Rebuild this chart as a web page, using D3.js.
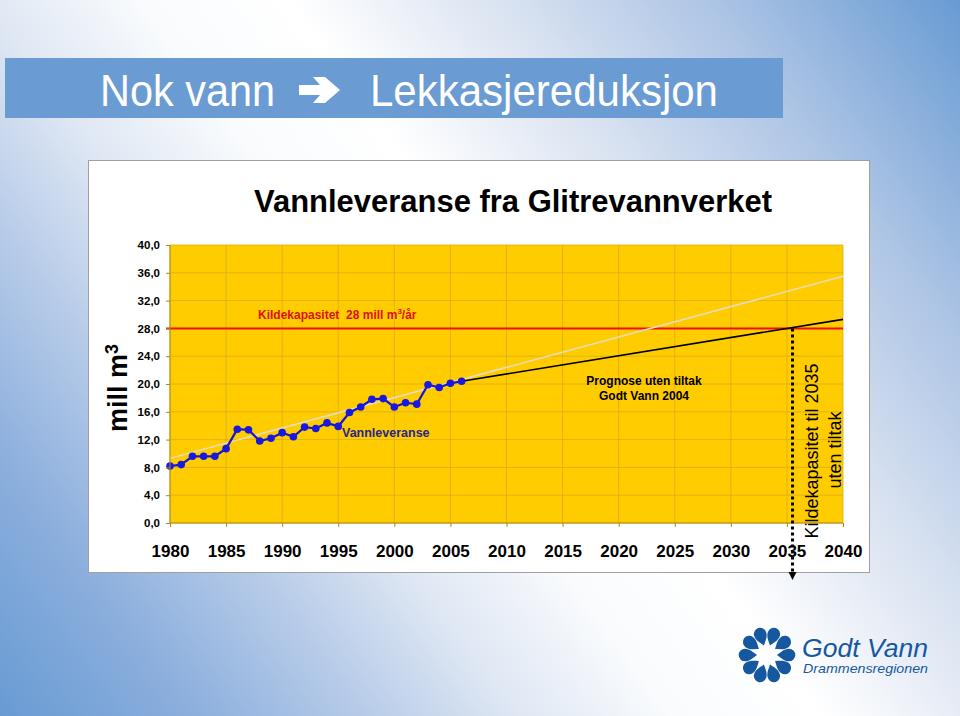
<!DOCTYPE html>
<html>
<head>
<meta charset="utf-8">
<script src="https://cdn.jsdelivr.net/npm/d3@7"></script>
<style>
  html, body { margin: 0; padding: 0; background: #fff; }
  svg { display: block; font-family: "Liberation Sans", Arial, sans-serif; }
</style>
</head>
<body>
<script>
(function(){

    //vannleveranse (mill m3)
    var years = [1980, 1981, 1982, 1983, 1984, 1985, 1986, 1987, 1988, 1989,
                 1990, 1991, 1992, 1993, 1994, 1995, 1996, 1997, 1998, 1999,
                 2000, 2001, 2002, 2003, 2004, 2005, 2006];
    var delivery = [8.2, 8.4, 9.6, 9.6, 9.6, 10.7, 13.5, 13.4, 11.8, 12.2,
                    13.0, 12.4, 13.8, 13.6, 14.4, 13.9, 15.9, 16.7, 17.8, 17.9,
                    16.7, 17.3, 17.1, 19.9, 19.5, 20.1, 20.4];

    //prognose uten tiltak, and the light linear trend
    var prognosisYears = [2006, 2040];
    var prognosis = [20.4, 29.3];
    var trendYears = [1980, 2040];
    var trend = [9.3, 35.5];

    //kildekapasitet
    var capacity = 28;
    var capacityYear = 2035.5;

    //axis ticks
    var xTicks = [1980, 1985, 1990, 1995, 2000, 2005, 2010, 2015, 2020, 2025, 2030, 2035, 2040];
    var yTicks = [0, 4, 8, 12, 16, 20, 24, 28, 32, 36, 40];

    var width = 960,
        height = 716;

    var svg = d3.select("body")
        .append("svg")
        .attr("width", width)
        .attr("height", height);

    var defs = svg.append("defs");

    //slide background: blue in top-right and bottom-left corners
    var bg = defs.append("linearGradient")
        .attr("id", "bg")
        .attr("gradientUnits", "userSpaceOnUse")
        .attr("x1", 0).attr("y1", height)
        .attr("x2", width).attr("y2", 0);
    [[0, "#689bd3"], [0.13, "#8cafdd"], [0.24, "#b5cae8"], [0.35, "#e0e8f4"],
     [0.45, "#f9fbfd"], [0.55, "#ffffff"], [0.68, "#dde5f2"], [0.83, "#aec5e5"],
     [1, "#689bd3"]].forEach(function(s){
        bg.append("stop").attr("offset", s[0]).attr("stop-color", s[1]);
    });

    svg.append("rect")
        .attr("width", width)
        .attr("height", height)
        .attr("fill", "url(#bg)");

    //title bar
    svg.append("rect")
        .attr("x", 5).attr("y", 58)
        .attr("width", 778).attr("height", 60)
        .attr("fill", "#6a9bd3");

    svg.append("text")
        .attr("x", 100).attr("y", 106)
        .attr("fill", "#fff")
        .style("font-size", "45px")
        .attr("textLength", 175)
        .attr("lengthAdjust", "spacingAndGlyphs")
        .text("Nok vann");

    //heavy arrow between the two title words
    svg.append("path")
        .attr("d", "M299,85L320,85L313,77L325,77L340,90L325,103L313,103L320,95L299,95Z")
        .attr("fill", "#fff");

    svg.append("text")
        .attr("x", 370).attr("y", 106)
        .attr("fill", "#fff")
        .style("font-size", "45px")
        .attr("textLength", 348)
        .attr("lengthAdjust", "spacingAndGlyphs")
        .text("Lekkasjereduksjon");

    //chart frame
    svg.append("rect")
        .attr("x", 88.5).attr("y", 160.5)
        .attr("width", 781).attr("height", 412)
        .attr("fill", "#fff")
        .attr("stroke", "#a0a0a0")
        .attr("stroke-width", 1);

    svg.append("text")
        .attr("x", 254).attr("y", 212)
        .style("font-size", "32px")
        .style("font-weight", "bold")
        .attr("textLength", 518)
        .attr("lengthAdjust", "spacingAndGlyphs")
        .text("Vannleveranse fra Glitrevannverket");

    //scales
    var x = d3.scaleLinear().domain([1980, 2040]).range([170, 843]);
    var y = d3.scaleLinear().domain([0, 40]).range([523, 245]);

    var plot = svg.append("g");

    plot.append("rect")
        .attr("x", x(1980)).attr("y", y(40))
        .attr("width", x(2040) - x(1980))
        .attr("height", y(0) - y(40))
        .attr("fill", "#ffcc00");

    //gridlines
    plot.append("g")
        .selectAll("line.vg")
        .data(xTicks)
        .enter()
        .append("line")
        .attr("x1", function(d){ return x(d); })
        .attr("x2", function(d){ return x(d); })
        .attr("y1", y(0)).attr("y2", y(40))
        .attr("stroke", "#d9ad1a")
        .attr("stroke-width", 0.8);

    plot.append("g")
        .selectAll("line.hg")
        .data(yTicks)
        .enter()
        .append("line")
        .attr("x1", x(1980)).attr("x2", x(2040))
        .attr("y1", function(d){ return y(d); })
        .attr("y2", function(d){ return y(d); })
        .attr("stroke", "#d9ad1a")
        .attr("stroke-width", 0.8);

    var comma = function(d){ return d3.format(".1f")(d).replace(".", ","); };

    //y axis
    var yAxis = svg.append("g")
        .attr("transform", "translate(" + x(1980) + ",0)")
        .call(d3.axisLeft(y).tickValues(yTicks).tickSize(4).tickPadding(6).tickFormat(comma));
    yAxis.selectAll("text")
        .style("font-size", "11.5px")
        .style("font-weight", "bold")
        .style("font-family", "Liberation Sans, Arial, sans-serif")
        .attr("fill", "#000");

    //x axis
    var xAxis = svg.append("g")
        .attr("transform", "translate(0," + y(0) + ")")
        .call(d3.axisBottom(x).tickValues(xTicks).tickSize(4).tickPadding(18).tickFormat(d3.format("d")));
    xAxis.selectAll("text")
        .style("font-size", "17px")
        .style("font-weight", "bold")
        .style("font-family", "Liberation Sans, Arial, sans-serif")
        .attr("fill", "#000");

    [yAxis, xAxis].forEach(function(a){
        a.select(".domain").attr("stroke", "#b08a10");
        a.selectAll(".tick line").attr("stroke", "#b08a10");
    });
    xAxis.select(".domain").attr("d", "M" + x(1980) + ",0H" + x(2040));
    yAxis.select(".domain").attr("d", "M0," + y(0) + "V" + y(40));

    //y axis title
    var yTitle = svg.append("text")
        .attr("transform", "translate(127,388) rotate(-90)")
        .attr("text-anchor", "middle")
        .style("font-size", "27px")
        .style("font-weight", "bold");
    yTitle.append("tspan").text("mill m");
    yTitle.append("tspan")
        .attr("dy", "-0.5em")
        .style("font-size", "18px")
        .text("3");

    //capacity line
    plot.append("line")
        .attr("x1", x(1980) - 4).attr("x2", x(2040))
        .attr("y1", y(capacity)).attr("y2", y(capacity))
        .attr("stroke", "#ee1111")
        .attr("stroke-width", 2);

    var capLabel = plot.append("text")
        .attr("x", 258).attr("y", 319)
        .attr("fill", "#e01010")
        .style("font-size", "12px")
        .style("font-weight", "bold")
        .attr("xml:space", "preserve");
    capLabel.append("tspan").text("Kildekapasitet  28 mill m");
    capLabel.append("tspan").attr("dy", -5).style("font-size", "8px").text("3");
    capLabel.append("tspan").attr("dy", 5).text("/år");

    var line = d3.line()
        .x(function(d){ return x(d[0]); })
        .y(function(d){ return y(d[1]); });

    //light trend
    plot.append("path")
        .datum(d3.zip(trendYears, trend))
        .attr("d", line)
        .attr("fill", "none")
        .attr("stroke", "#e2dcc4")
        .attr("stroke-width", 1.5);

    //prognosis
    plot.append("path")
        .datum(d3.zip(prognosisYears, prognosis))
        .attr("d", line)
        .attr("fill", "none")
        .attr("stroke", "#000")
        .attr("stroke-width", 1.6);

    //delivery series
    var series = d3.zip(years, delivery);
    plot.append("path")
        .datum(series)
        .attr("d", line)
        .attr("fill", "none")
        .attr("stroke", "#1616d0")
        .attr("stroke-width", 2.2);

    plot.selectAll(".dot")
        .data(series)
        .enter()
        .append("circle")
        .attr("class", "dot")
        .attr("cx", function(d){ return x(d[0]); })
        .attr("cy", function(d){ return y(d[1]); })
        .attr("r", 3.8)
        .attr("fill", "#1818e0");

    plot.append("text")
        .attr("x", 342).attr("y", 437)
        .attr("fill", "#25258a")
        .style("font-size", "12.5px")
        .style("font-weight", "bold")
        .text("Vannleveranse");

    var progLabel = plot.append("text")
        .attr("text-anchor", "middle")
        .style("font-size", "12px")
        .style("font-weight", "bold");
    progLabel.append("tspan").attr("x", 644).attr("y", 385).text("Prognose uten tiltak");
    progLabel.append("tspan").attr("x", 644).attr("y", 400).text("Godt Vann 2004");

    //dotted arrow down from the crossing point
    var ax = x(capacityYear);
    svg.append("line")
        .attr("x1", ax).attr("x2", ax)
        .attr("y1", y(capacity)).attr("y2", 573)
        .attr("stroke", "#000")
        .attr("stroke-width", 3)
        .attr("stroke-dasharray", "3,3");
    svg.append("path")
        .attr("d", "M" + (ax - 4) + ",572L" + (ax + 4) + ",572L" + ax + ",580Z")
        .attr("fill", "#000");

    var sideLabel = svg.append("text")
        .attr("transform", "rotate(-90)")
        .attr("text-anchor", "middle")
        .style("font-size", "18px");
    sideLabel.append("tspan").attr("x", -451).attr("y", 818).text("Kildekapasitet til 2035");
    sideLabel.append("tspan").attr("x", -450).attr("y", 841).text("uten tiltak");

    //logo: ring of drops with tips pointing in
    var logo = svg.append("g").attr("transform", "translate(767,655)");
    var drops = [0, 1, 2, 3, 4, 5, 6, 7, 8, 9];
    logo.selectAll("path")
        .data(drops)
        .enter()
        .append("path")
        .attr("transform", function(d){ return "rotate(" + (18 + d * 36) + ")"; })
        .attr("d", "M0,-10 C2.5,-13.5 6.3,-17 6.3,-22 A6.3,6.3 0 1 0 -6.3,-22 C-6.3,-17 -2.5,-13.5 0,-10Z")
        .attr("fill", "#16589f");

    svg.append("text")
        .attr("x", 802).attr("y", 657)
        .attr("fill", "#16589f")
        .style("font-size", "25px")
        .style("font-style", "italic")
        .attr("textLength", 126)
        .attr("lengthAdjust", "spacingAndGlyphs")
        .text("Godt Vann");

    svg.append("text")
        .attr("x", 803).attr("y", 673)
        .attr("fill", "#16589f")
        .style("font-size", "13px")
        .style("font-style", "italic")
        .attr("textLength", 125)
        .attr("lengthAdjust", "spacingAndGlyphs")
        .text("Drammensregionen");

})();
</script>
</body>
</html>
